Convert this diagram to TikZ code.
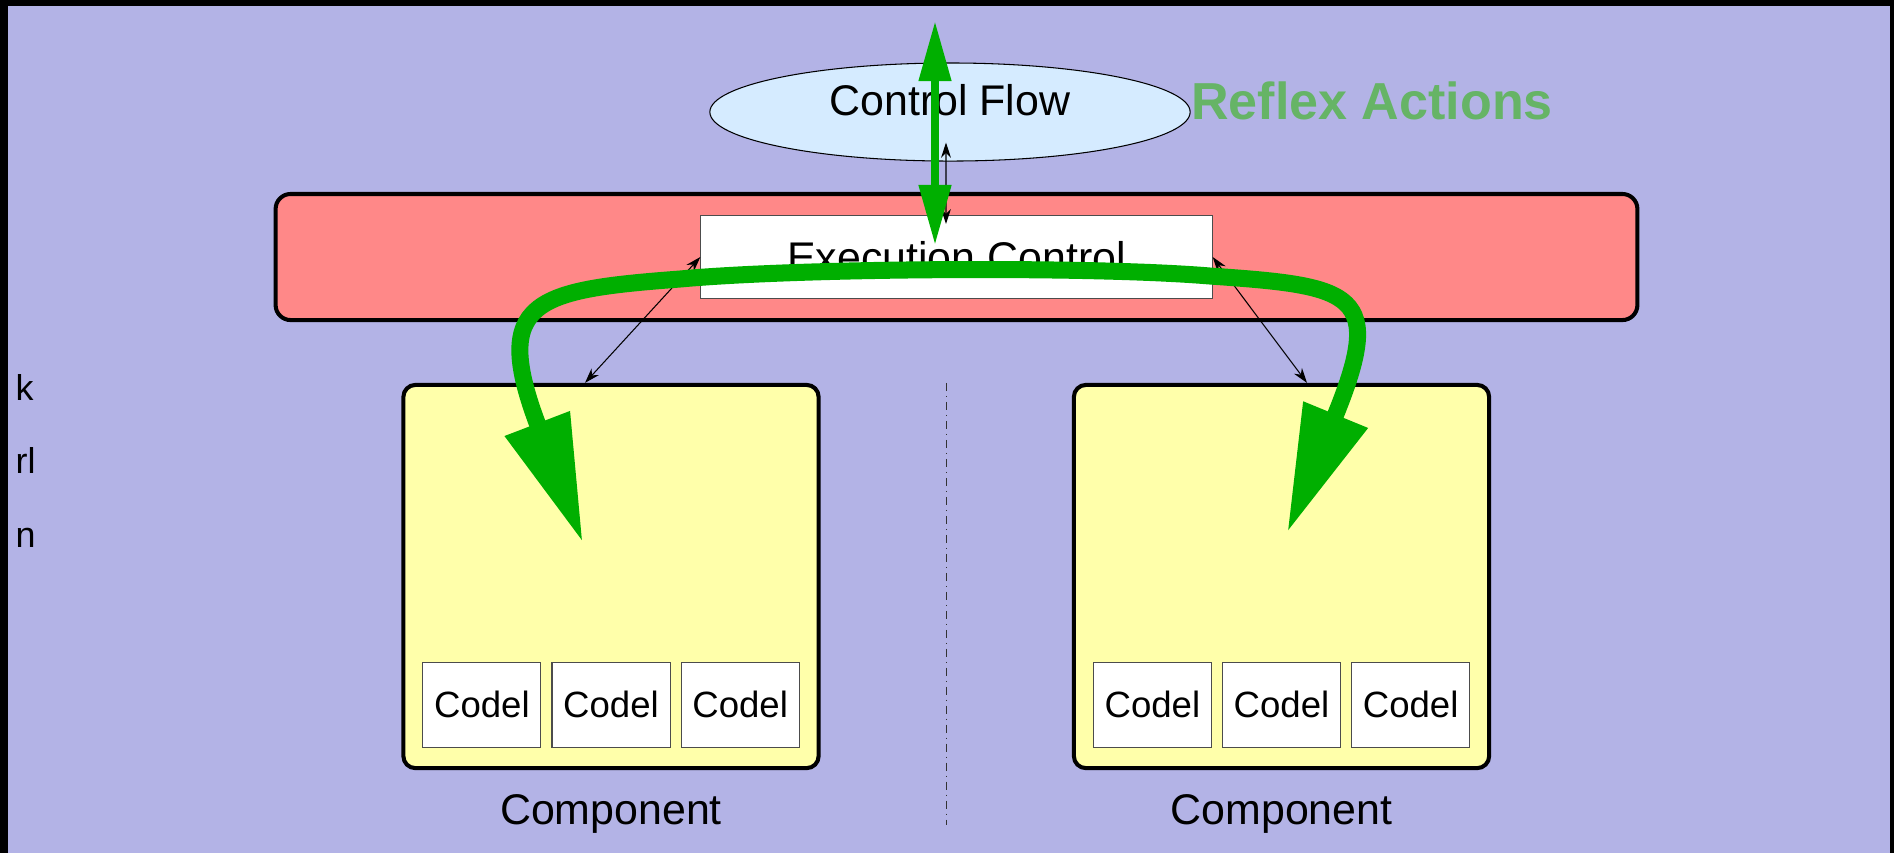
\documentclass[tikz,border=0pt]{standalone}
\usepackage{fontspec}
\setmainfont{Liberation Sans}
\usetikzlibrary{positioning,shapes.geometric,arrows.meta,calc}

\definecolor{lavender}{RGB}{179,179,230}
\definecolor{layerred}{RGB}{255,136,136}
\definecolor{compyellow}{RGB}{255,255,170}
\definecolor{flowblue}{RGB}{213,235,255}
\definecolor{reflexgreen}{RGB}{0,175,0}
\definecolor{reflextext}{RGB}{102,180,102}

\tikzset{
  bigtext/.style={font=\fontsize{12.2}{14}\selectfont},
  fragment/.style={font=\fontsize{10.2}{12}\selectfont, inner sep=0pt, anchor=base west},
  layer/.style={draw=black, line width=1.15pt, fill=layerred, rounded corners=0.15cm,
    minimum width=13.61cm, minimum height=1.26cm},
  whitebox/.style={draw=black!70, line width=0.3pt, fill=white, inner sep=0pt},
  component/.style={draw=black, line width=1.15pt, fill=compyellow, rounded corners=0.12cm,
    minimum width=4.15cm, minimum height=3.83cm},
  codel/.style={whitebox, minimum width=1.18cm, minimum height=0.85cm,
    font=\fontsize{10.4}{12}\selectfont},
  link/.style={line width=0.3pt, {Stealth[length=4.3pt,width=2.8pt]}-{Stealth[length=4.3pt,width=2.8pt]}},
  separator/.style={draw=black!80, line width=0.3pt, dash pattern=on 2.3pt off 1.4pt on 0.3pt off 1.4pt},
  reflex/.style={draw=reflexgreen, line width=4.84pt,
    {Triangle[length=36.4pt,width=18.5pt]}-{Triangle[length=36.4pt,width=18.5pt]}},
  reflexv/.style={draw=reflexgreen, line width=2.28pt,
    {Triangle[length=17.1pt,width=8.8pt]}-{Triangle[length=17.1pt,width=8.8pt]}}
}

\begin{document}
\begin{tikzpicture}[x=0.01cm,y=-0.01cm]
\useasboundingbox (0,0) rectangle (1894,853);
\fill[lavender] (0,0) rectangle (1894,853);
% frame
\fill[black] (0,0) rectangle (8,853);
\fill[black] (0,0) rectangle (1894,6);
\fill[black] (1890,0) rectangle (1894,853);

% cut off words on the left
\node[fragment] (fragk) at (15,400) {k};
\node[fragment] (fragrl) at (15,473) {rl};
\node[fragment] (fragn) at (15,547) {n};

% execution layer
\node[layer] (execlayer) at (956.5,257) {};
\node[whitebox, bigtext, minimum width=5.11cm, minimum height=0.83cm] (execctrl) at (execlayer.center) {Execution Control};

\node[ellipse, draw=black, line width=0.3pt, fill=flowblue, minimum width=4.8cm, minimum height=0.98cm,
  inner sep=0pt, text depth=0.25cm, bigtext] (ctrlflow) at (950,112) {Control Flow};
\node[font=\fontsize{14.8}{17}\selectfont\bfseries, text=reflextext, inner sep=0pt,
  right=0cm of ctrlflow, yshift=0.11cm] (reflexlabel) {Reflex Actions};

% components
\node[component] (compL) at (611,576.5) {};
\node[component] (compR) at (1281.5,576.5) {};
\foreach \comp in {compL,compR} {
  \node[codel, above=0.225cm of \comp.south] (\comp codel2) {Codel};
  \node[codel, left=0.1cm of \comp codel2] (\comp codel1) {Codel};
  \node[codel, right=0.1cm of \comp codel2] (\comp codel3) {Codel};
  \node[bigtext, inner sep=0pt, below=0.24cm of \comp] (\comp label) {Component};
}
\draw[separator] ($(compL.north)!0.5!(compR.north)$) -- ++(0,442);

\draw[link] (execctrl.west) -- ([xshift=-0.26cm]compL.north);
\draw[link] (execctrl.east) -- ([xshift=0.255cm]compR.north);
\draw[link] ([xshift=-0.04cm,yshift=0.19cm]ctrlflow.south) -- ([xshift=-0.105cm,yshift=-0.09cm]execctrl.north);

% reflex actions
\coordinate (reflexL) at (583,543);
\coordinate (reflexR) at (1287,533);
\draw[reflex] (reflexL) .. controls (490,300) and (535,290) .. (680,279)
  .. controls (800,268) and (1090,266) .. (1210,276)
  .. controls (1355,286) and (1386,292) .. (reflexR);
\coordinate (reflextop) at (935,21);
\coordinate (reflexbottom) at (935,245);
\draw[reflexv] (reflextop) -- (reflexbottom);

\end{tikzpicture}
\end{document}
